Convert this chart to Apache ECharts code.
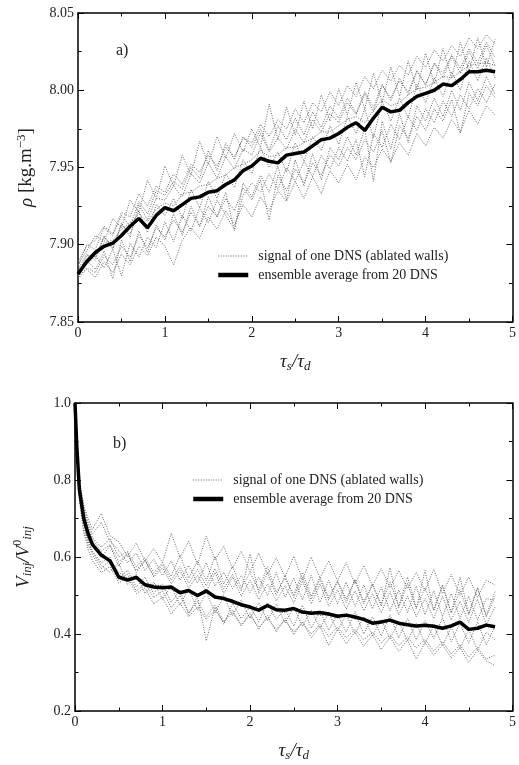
<!DOCTYPE html>
<html lang="en" style="height: 100%">
<head>
  <meta charset="utf-8">
</head>
<body style="height: 100%; margin: 0; background: #fff">
  <div id="container" style="width: 519px; height: 765px"></div>

  <script type="text/javascript" src="https://cdn.jsdelivr.net/npm/echarts@6/dist/echarts.min.js"></script>

  <script type="text/javascript">
    var dom = document.getElementById('container');
    var myChart = echarts.init(dom, null, { renderer: 'canvas' });
    var option;

const SERIF = 'Liberation Serif';
const sigName = 'signal of one DNS (ablated walls)';
const avgName = 'ensemble average from 20 DNS';

// time axis, panel a)
const tTop = [
  0, 0.1, 0.2, 0.3, 0.4, 0.5, 0.6, 0.7, 0.8, 0.9,
  1.0, 1.1, 1.2, 1.3, 1.4, 1.5, 1.6, 1.7, 1.8, 1.9,
  2.0, 2.1, 2.2, 2.3, 2.4, 2.5, 2.6, 2.7, 2.8, 2.9,
  3.0, 3.1, 3.2, 3.3, 3.4, 3.5, 3.6, 3.7, 3.8, 3.9,
  4.0, 4.1, 4.2, 4.3, 4.4, 4.5, 4.6, 4.7, 4.8
];
// time axis, panel b) (denser at the start)
const tBot = [
  0, 0.02, 0.05, 0.1, 0.15,
  0.2, 0.3, 0.4, 0.5, 0.6, 0.7, 0.8, 0.9,
  1.0, 1.1, 1.2, 1.3, 1.4, 1.5, 1.6, 1.7, 1.8, 1.9,
  2.0, 2.1, 2.2, 2.3, 2.4, 2.5, 2.6, 2.7, 2.8, 2.9,
  3.0, 3.1, 3.2, 3.3, 3.4, 3.5, 3.6, 3.7, 3.8, 3.9,
  4.0, 4.1, 4.2, 4.3, 4.4, 4.5, 4.6, 4.7, 4.8
];

// density, ensemble average
const rhoMean = [
  7.881, 7.889, 7.895, 7.899, 7.901, 7.906, 7.912, 7.917, 7.911, 7.919,
  7.924, 7.922, 7.926, 7.930, 7.931, 7.934, 7.935, 7.939, 7.942, 7.948,
  7.951, 7.956, 7.954, 7.953, 7.958, 7.959, 7.960, 7.964, 7.968, 7.969,
  7.972, 7.976, 7.979, 7.974, 7.982, 7.989, 7.986, 7.987, 7.992, 7.996,
  7.998, 8.000, 8.004, 8.003, 8.007, 8.012, 8.012, 8.013, 8.012
];

// density, single DNS signals
const rhoRuns = [
  [7.889, 7.899, 7.903, 7.912, 7.907, 7.921, 7.918, 7.933, 7.925, 7.938,
   7.934, 7.946, 7.939, 7.952, 7.947, 7.958, 7.951, 7.963, 7.957, 7.969,
   7.966, 7.978, 7.970, 7.981, 7.975, 7.988, 7.979, 7.992, 7.986, 7.999,
   7.990, 8.003, 7.996, 8.009, 8.001, 8.013, 8.006, 8.016, 8.010, 8.022,
   8.015, 8.026, 8.019, 8.029, 8.022, 8.034, 8.027, 8.036, 8.030],
  [7.880, 7.884, 7.879, 7.889, 7.882, 7.894, 7.887, 7.899, 7.893, 7.905,
   7.899, 7.887, 7.903, 7.911, 7.904, 7.918, 7.910, 7.922, 7.913, 7.926,
   7.918, 7.931, 7.922, 7.935, 7.928, 7.941, 7.930, 7.944, 7.933, 7.948,
   7.940, 7.952, 7.942, 7.957, 7.950, 7.962, 7.954, 7.966, 7.958, 7.972,
   7.964, 7.976, 7.969, 7.981, 7.973, 7.987, 7.978, 7.990, 7.984],
  [7.884, 7.894, 7.890, 7.906, 7.897, 7.914, 7.905, 7.926, 7.916, 7.930,
   7.929, 7.938, 7.931, 7.946, 7.940, 7.953, 7.943, 7.957, 7.949, 7.962,
   7.958, 7.972, 7.960, 7.969, 7.962, 7.975, 7.966, 7.981, 7.973, 7.985,
   7.979, 7.992, 7.984, 7.998, 7.986, 8.003, 7.995, 8.006, 7.999, 8.012,
   8.004, 8.017, 8.011, 8.023, 8.014, 8.027, 8.018, 8.031, 8.021],
  [7.882, 7.887, 7.893, 7.885, 7.897, 7.880, 7.901, 7.892, 7.905, 7.898,
   7.915, 7.902, 7.919, 7.909, 7.924, 7.914, 7.929, 7.919, 7.910, 7.932,
   7.940, 7.934, 7.946, 7.936, 7.950, 7.941, 7.954, 7.944, 7.958, 7.949,
   7.963, 7.954, 7.968, 7.944, 7.972, 7.963, 7.978, 7.968, 7.983, 7.974,
   7.988, 7.979, 7.993, 7.983, 7.997, 7.988, 8.001, 7.992, 8.004],
  [7.880, 7.893, 7.892, 7.905, 7.898, 7.913, 7.907, 7.922, 7.908, 7.926,
   7.919, 7.930, 7.917, 7.936, 7.924, 7.941, 7.930, 7.946, 7.937, 7.955,
   7.946, 7.963, 7.950, 7.960, 7.947, 7.966, 7.954, 7.970, 7.961, 7.977,
   7.965, 7.983, 7.972, 7.988, 7.969, 7.993, 7.980, 7.995, 7.982, 8.004,
   7.992, 8.008, 7.996, 8.012, 8.000, 8.019, 8.006, 8.021, 8.008],
  [7.878, 7.885, 7.882, 7.893, 7.887, 7.899, 7.892, 7.906, 7.898, 7.911,
   7.905, 7.916, 7.908, 7.921, 7.912, 7.925, 7.918, 7.930, 7.922, 7.937,
   7.929, 7.942, 7.916, 7.945, 7.935, 7.949, 7.940, 7.953, 7.945, 7.958,
   7.951, 7.963, 7.955, 7.968, 7.960, 7.974, 7.953, 7.977, 7.969, 7.983,
   7.974, 7.988, 7.980, 7.994, 7.972, 7.998, 7.990, 8.003, 7.995],
  [7.886, 7.900, 7.897, 7.911, 7.906, 7.919, 7.912, 7.928, 7.920, 7.935,
   7.932, 7.941, 7.936, 7.950, 7.943, 7.961, 7.948, 7.966, 7.955, 7.970,
   7.963, 7.975, 7.961, 7.977, 7.968, 7.982, 7.971, 7.986, 7.976, 7.990,
   7.982, 7.995, 7.985, 7.999, 7.989, 8.004, 7.993, 8.008, 7.997, 8.013,
   8.003, 8.018, 8.008, 8.022, 8.011, 8.025, 8.014, 8.029, 8.016],
  [7.879, 7.890, 7.884, 7.896, 7.878, 7.903, 7.889, 7.909, 7.895, 7.913,
   7.903, 7.920, 7.906, 7.925, 7.912, 7.931, 7.918, 7.934, 7.909, 7.940,
   7.931, 7.945, 7.934, 7.951, 7.929, 7.955, 7.938, 7.959, 7.942, 7.963,
   7.955, 7.970, 7.958, 7.975, 7.941, 7.980, 7.962, 7.985, 7.966, 7.990,
   7.980, 7.995, 7.983, 8.000, 7.987, 8.005, 7.993, 8.009, 7.997],
  [7.883, 7.891, 7.896, 7.901, 7.903, 7.910, 7.914, 7.920, 7.915, 7.923,
   7.927, 7.925, 7.933, 7.934, 7.938, 7.939, 7.943, 7.945, 7.950, 7.952,
   7.955, 7.961, 7.957, 7.958, 7.963, 7.963, 7.966, 7.969, 7.973, 7.973,
   7.977, 7.981, 7.983, 7.979, 7.987, 7.994, 7.990, 7.992, 7.997, 8.001,
   8.002, 8.005, 8.009, 8.008, 8.012, 8.016, 8.017, 8.018, 8.016],
  [7.887, 7.896, 7.906, 7.902, 7.917, 7.911, 7.929, 7.921, 7.942, 7.930,
   7.951, 7.938, 7.958, 7.945, 7.967, 7.952, 7.970, 7.956, 7.972, 7.960,
   7.975, 7.963, 7.991, 7.968, 7.989, 7.971, 7.993, 7.975, 7.997, 7.980,
   8.001, 7.984, 8.005, 7.988, 8.011, 7.992, 8.015, 7.996, 8.019, 8.000,
   8.024, 8.004, 8.027, 8.008, 8.031, 8.012, 8.034, 8.015, 8.033]
];

// injection velocity ratio, ensemble average
const vMean = [
  1.000, 0.890, 0.775, 0.700, 0.660,
  0.632, 0.605, 0.590, 0.548, 0.540, 0.547, 0.528, 0.522,
  0.520, 0.522, 0.507, 0.513, 0.500, 0.512, 0.496, 0.492, 0.485, 0.476,
  0.470, 0.462, 0.474, 0.463, 0.462, 0.466, 0.457, 0.454, 0.456, 0.452,
  0.446, 0.449, 0.444, 0.438, 0.428, 0.431, 0.436, 0.428, 0.424, 0.421,
  0.423, 0.420, 0.415, 0.421, 0.431, 0.412, 0.415, 0.423, 0.419
];

// injection velocity ratio, single DNS signals
const vRuns = [
  [1.000, 0.905, 0.800, 0.735, 0.700,
   0.672, 0.713, 0.655, 0.640, 0.602, 0.636, 0.590, 0.622,
   0.585, 0.662, 0.598, 0.641, 0.580, 0.654, 0.592, 0.628, 0.570, 0.615,
   0.562, 0.610, 0.555, 0.598, 0.548, 0.602, 0.540, 0.600, 0.545, 0.590,
   0.538, 0.585, 0.530, 0.578, 0.525, 0.570, 0.520, 0.565, 0.518, 0.560,
   0.512, 0.568, 0.505, 0.555, 0.500, 0.548, 0.495, 0.540, 0.527],
  [1.000, 0.870, 0.745, 0.665, 0.620,
   0.590, 0.560, 0.575, 0.532, 0.548, 0.505, 0.520, 0.478,
   0.495, 0.452, 0.480, 0.445, 0.470, 0.438, 0.462, 0.430, 0.455, 0.425,
   0.448, 0.418, 0.440, 0.412, 0.436, 0.405, 0.430, 0.400, 0.425, 0.394,
   0.418, 0.390, 0.412, 0.385, 0.405, 0.378, 0.398, 0.370, 0.392, 0.364,
   0.386, 0.356, 0.380, 0.348, 0.372, 0.340, 0.365, 0.335, 0.345],
  [1.000, 0.898, 0.790, 0.720, 0.682,
   0.650, 0.625, 0.648, 0.600, 0.615, 0.575, 0.598, 0.560,
   0.585, 0.550, 0.605, 0.545, 0.590, 0.538, 0.602, 0.530, 0.575, 0.520,
   0.560, 0.515, 0.575, 0.508, 0.545, 0.502, 0.560, 0.498, 0.548, 0.495,
   0.538, 0.490, 0.542, 0.484, 0.530, 0.478, 0.535, 0.472, 0.548, 0.468,
   0.520, 0.462, 0.528, 0.455, 0.515, 0.450, 0.520, 0.445, 0.498],
  [1.000, 0.885, 0.765, 0.690, 0.645,
   0.615, 0.585, 0.600, 0.545, 0.565, 0.522, 0.548, 0.505,
   0.530, 0.482, 0.515, 0.450, 0.498, 0.382, 0.470, 0.425, 0.480, 0.440,
   0.470, 0.432, 0.482, 0.438, 0.465, 0.420, 0.475, 0.415, 0.460, 0.410,
   0.452, 0.405, 0.458, 0.400, 0.445, 0.395, 0.450, 0.390, 0.440, 0.385,
   0.435, 0.388, 0.442, 0.380, 0.428, 0.376, 0.432, 0.372, 0.420],
  [1.000, 0.892, 0.782, 0.712, 0.668,
   0.640, 0.598, 0.630, 0.575, 0.612, 0.560, 0.590, 0.548,
   0.572, 0.530, 0.565, 0.520, 0.552, 0.510, 0.560, 0.505, 0.548, 0.498,
   0.540, 0.490, 0.530, 0.486, 0.525, 0.480, 0.538, 0.478, 0.530, 0.472,
   0.515, 0.465, 0.512, 0.460, 0.505, 0.455, 0.510, 0.450, 0.498, 0.445,
   0.492, 0.440, 0.498, 0.436, 0.485, 0.430, 0.490, 0.425, 0.470],
  [1.000, 0.878, 0.752, 0.675, 0.632,
   0.605, 0.570, 0.590, 0.540, 0.555, 0.512, 0.530, 0.495,
   0.512, 0.468, 0.500, 0.455, 0.485, 0.445, 0.475, 0.432, 0.462, 0.420,
   0.455, 0.412, 0.448, 0.405, 0.440, 0.398, 0.432, 0.390, 0.420, 0.370,
   0.412, 0.375, 0.405, 0.368, 0.398, 0.360, 0.392, 0.355, 0.385, 0.335,
   0.378, 0.345, 0.372, 0.338, 0.365, 0.326, 0.358, 0.330, 0.318],
  [1.000, 0.902, 0.795, 0.728, 0.690,
   0.660, 0.690, 0.640, 0.618, 0.585, 0.610, 0.565, 0.595,
   0.552, 0.590, 0.540, 0.578, 0.532, 0.585, 0.525, 0.560, 0.518, 0.552,
   0.508, 0.548, 0.500, 0.560, 0.495, 0.545, 0.488, 0.552, 0.482, 0.540,
   0.478, 0.535, 0.472, 0.528, 0.465, 0.522, 0.460, 0.515, 0.455, 0.525,
   0.450, 0.512, 0.445, 0.505, 0.440, 0.498, 0.436, 0.492, 0.488],
  [1.000, 0.882, 0.760, 0.685, 0.640,
   0.612, 0.578, 0.560, 0.585, 0.528, 0.555, 0.505, 0.535,
   0.490, 0.525, 0.475, 0.518, 0.462, 0.510, 0.455, 0.498, 0.448, 0.488,
   0.440, 0.482, 0.435, 0.478, 0.428, 0.470, 0.420, 0.462, 0.415, 0.455,
   0.408, 0.450, 0.400, 0.445, 0.395, 0.438, 0.388, 0.432, 0.382, 0.428,
   0.375, 0.422, 0.370, 0.418, 0.362, 0.412, 0.358, 0.405, 0.385],
  [1.000, 0.888, 0.772, 0.698, 0.655,
   0.628, 0.600, 0.592, 0.560, 0.545, 0.552, 0.532, 0.528,
   0.525, 0.515, 0.510, 0.508, 0.498, 0.512, 0.492, 0.500, 0.480, 0.472,
   0.475, 0.462, 0.470, 0.460, 0.455, 0.468, 0.452, 0.458, 0.448, 0.450,
   0.442, 0.452, 0.438, 0.440, 0.430, 0.435, 0.432, 0.425, 0.428, 0.418,
   0.420, 0.425, 0.412, 0.422, 0.428, 0.408, 0.418, 0.420, 0.415],
  [1.000, 0.895, 0.785, 0.715, 0.675,
   0.645, 0.615, 0.632, 0.588, 0.605, 0.565, 0.592, 0.552,
   0.580, 0.540, 0.575, 0.532, 0.568, 0.525, 0.570, 0.518, 0.555, 0.512,
   0.608, 0.505, 0.560, 0.500, 0.552, 0.495, 0.548, 0.490, 0.542, 0.488,
   0.535, 0.482, 0.540, 0.478, 0.528, 0.472, 0.572, 0.468, 0.532, 0.465,
   0.565, 0.460, 0.525, 0.455, 0.548, 0.452, 0.520, 0.448, 0.510]
];

const pairs = (ts, ys) => ts.map((t, i) => [t, ys[i]]);

const frame = { show: true, onZero: false, lineStyle: { color: '#000', width: 1.5 } };
const ticks = { show: true, inside: true, length: 6, lineStyle: { color: '#000', width: 1 } };
const minor = { show: true, splitNumber: 2, length: 3.5, lineStyle: { color: '#000', width: 1 } };
const labelStyle = { fontFamily: SERIF, fontSize: 14, color: '#222' };

const xBase = (grid, pos, showLabel, name) => ({
  type: 'value', gridIndex: grid, position: pos, min: 0, max: 5, interval: 1,
  axisLine: frame, axisTick: ticks, minorTick: minor,
  splitLine: { show: false },
  axisLabel: Object.assign({ show: showLabel, margin: 4 }, labelStyle),
  name: name || '', nameLocation: 'middle', nameGap: 29,
  nameTextStyle: {
    rich: {
      i: { fontFamily: SERIF, fontStyle: 'italic', fontSize: 19, color: '#222' },
      s: { fontFamily: SERIF, fontStyle: 'italic', fontSize: 13, color: '#222', padding: [9, 0, 0, 0] }
    }
  }
});

const yBase = (grid, pos, showLabel, min, max, step, dec, name) => ({
  type: 'value', gridIndex: grid, position: pos, min: min, max: max, interval: step,
  axisLine: frame, axisTick: ticks, minorTick: minor,
  splitLine: { show: false },
  axisLabel: Object.assign({ show: showLabel, margin: 4, formatter: v => v.toFixed(dec) }, labelStyle),
  name: name || '', nameLocation: 'middle', nameRotate: 90, nameGap: 40,
  nameTextStyle: {
    rich: {
      i: { fontFamily: SERIF, fontStyle: 'italic', fontSize: 19, color: '#222' },
      n: { fontFamily: SERIF, fontSize: 19, color: '#222' },
      u: { fontFamily: SERIF, fontSize: 13, color: '#222', padding: [0, 0, 10, 0] },
      s: { fontFamily: SERIF, fontStyle: 'italic', fontSize: 13, color: '#222', padding: [9, 0, 0, 0] },
      p: { fontFamily: SERIF, fontSize: 12, color: '#222', padding: [0, 0, 11, 0] }
    }
  }
});

const sigLine = (x, y, data) => ({
  type: 'line', name: sigName, xAxisIndex: x, yAxisIndex: y,
  symbol: 'none', silent: true, z: 2,
  itemStyle: { color: '#6a6a6a' },
  lineStyle: { color: '#6a6a6a', width: 1, type: [1, 1.5] },
  data: data
});
const avgLine = (x, y, data) => ({
  type: 'line', name: avgName, xAxisIndex: x, yAxisIndex: y,
  symbol: 'none', silent: true, z: 5,
  itemStyle: { color: '#000' },
  lineStyle: { color: '#000', width: 3.5 },
  data: data
});

const legendBase = (left, top, w) => ({
  orient: 'vertical', left: left, top: top, itemWidth: w, itemHeight: 14, itemGap: 5,
  selectedMode: false,
  data: [
    { name: sigName, lineStyle: { width: 1 } },
    { name: avgName, lineStyle: { width: 4.5 } }
  ],
  itemStyle: { opacity: 0 },
  textStyle: { fontFamily: SERIF, fontSize: 14, color: '#222', padding: [0, 0, 0, 5] }
});

option = {
  backgroundColor: '#fff',
  animation: false,
  title: [
    { text: 'a)', left: 111, top: 38, textStyle: { fontFamily: SERIF, fontSize: 16, fontWeight: 'normal', color: '#222' } },
    { text: 'b)', left: 108, top: 431, textStyle: { fontFamily: SERIF, fontSize: 16, fontWeight: 'normal', color: '#222' } }
  ],
  legend: [legendBase(211, 244, 30), legendBase(186, 468, 30)],
  grid: [
    { left: 78, top: 13, width: 440, height: 309 },
    { left: 75, top: 403, width: 440, height: 308 }
  ],
  xAxis: [
    xBase(0, 'bottom', true, '{i|τ}{s|s}{i|/τ}{s|d}'),
    xBase(0, 'top', false),
    xBase(1, 'bottom', true, '{i|τ}{s|s}{i|/τ}{s|d}'),
    xBase(1, 'top', false)
  ],
  yAxis: [
    yBase(0, 'left', true, 7.85, 8.05, 0.05, 2, '{i|ρ}{n| [kg.m}{u|−3}{n|]}'),
    yBase(0, 'right', false, 7.85, 8.05, 0.05, 2),
    yBase(1, 'left', true, 0.2, 1.0, 0.2, 1, '{i|V}{s|inj}{i|/V}{p|0}{s|inj}'),
    yBase(1, 'right', false, 0.2, 1.0, 0.2, 1)
  ],
  series: [].concat(
    rhoRuns.map(r => sigLine(0, 0, pairs(tTop, r))),
    [avgLine(0, 0, pairs(tTop, rhoMean))],
    vRuns.map(r => sigLine(2, 2, pairs(tBot, r))),
    [avgLine(2, 2, pairs(tBot, vMean))]
  )
};

    if (option && typeof option === 'object') {
      myChart.setOption(option);
    }

    window.addEventListener('resize', myChart.resize);
  </script>
</body>
</html>
